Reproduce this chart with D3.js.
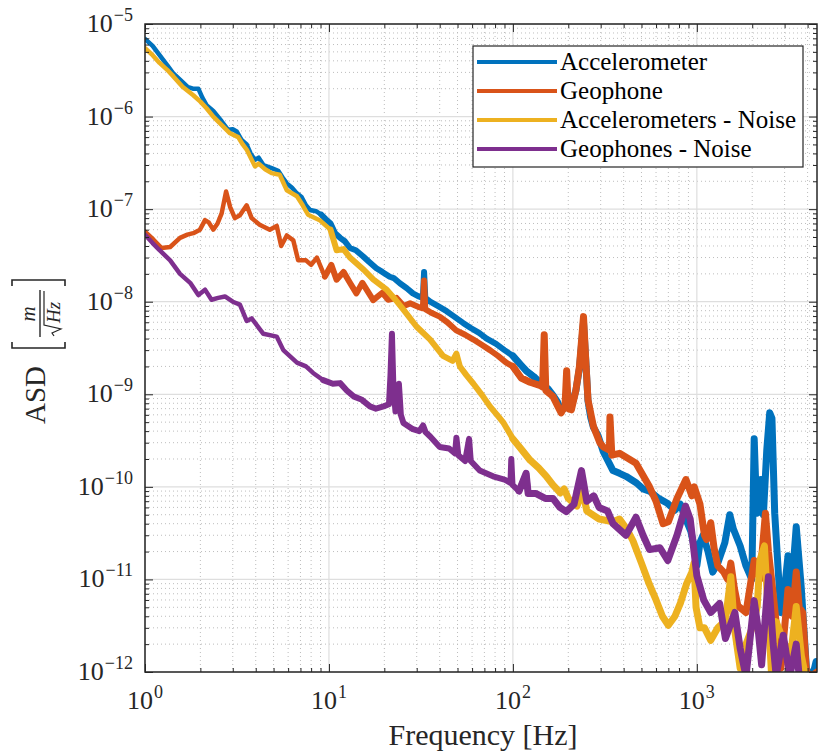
<!DOCTYPE html>
<html><head><meta charset="utf-8">
<script src="https://cdn.jsdelivr.net/npm/d3@7"></script>
<style>body{margin:0;background:#fff} svg{display:block}</style>
</head><body>
<svg id="chart" width="818" height="751"></svg>
<script>
// ---------- DATA ----------
const accFreq = [1.00,1.10,1.20,1.32,1.43,1.55,1.70,1.82,1.95,2.05,2.16,2.35,2.61,2.83,3.00,3.15,3.35,3.57,3.75,3.96,4.15,4.40,4.88,5.30,5.60,5.90,6.30,6.70,7.10,7.50,7.90,8.50,9.10,9.60,10.2,10.8,11.5,12.2,13.0,14.0,15.3,16.5,18.1,19.5,21.4,22.5,24.3,26.5,28.6,30.5,32.4,32.9,33.4,35.5,39,43.6,48,53.6,59,65.5,72,81,90,100,110,118,130,140,155,165,175,183,196,208,220,230,242,250,256,265,274,290,310,350,380,412,470,510,553,620,695,760,813,870,928,970,1000,1040,1080,1150,1220,1300,1420,1510,1580,1720,1850,1990,2050,2100,2130,2230,2300,2400,2490,2560,2650,2860,3000,3130,3250,3470,3690,3940,4200,4450];
const accASD = [6.9e-6,5.8e-6,4.6e-6,3.6e-6,2.9e-6,2.5e-6,2.1e-6,2.0e-6,2.0e-6,1.6e-6,1.33e-6,1.15e-6,8.9e-7,7.2e-7,7.3e-7,6.9e-7,5.6e-7,5.0e-7,4.0e-7,3.4e-7,3.6e-7,3.0e-7,2.77e-7,2.6e-7,2.2e-7,1.9e-7,1.7e-7,1.48e-7,1.35e-7,1.1e-7,9.8e-8,9.5e-8,8.7e-8,7.8e-8,7.0e-8,5.5e-8,4.9e-8,4.5e-8,3.8e-8,3.6e-8,3.1e-8,2.7e-8,2.3e-8,2.1e-8,1.86e-8,1.8e-8,1.58e-8,1.4e-8,1.23e-8,1.15e-8,1.1e-8,2.1e-8,1.1e-8,1.0e-8,9.0e-9,7.9e-9,6.9e-9,5.9e-9,5.2e-9,4.6e-9,4.0e-9,3.5e-9,3.0e-9,2.6e-9,2.1e-9,1.8e-9,1.55e-9,1.35e-9,1.15e-9,9.8e-10,8.2e-10,6.6e-10,7.5e-10,7.5e-10,1.1e-9,1.9e-9,6.0e-9,2.0e-9,8.5e-10,5.6e-10,4.4e-10,3.6e-10,2.4e-10,1.5e-10,1.4e-10,1.3e-10,1.1e-10,9.5e-11,9.0e-11,7.5e-11,6.6e-11,5.6e-11,6.5e-11,4.5e-11,3.3e-11,2.2e-11,1.4e-11,2.5e-11,3.0e-11,2.0e-11,1.2e-11,1.5e-11,2.5e-11,5.0e-11,3.5e-11,2.3e-11,1.4e-11,1.0e-11,3.3e-10,8.0e-11,5.2e-11,1.2e-10,5.0e-11,2.5e-10,6.3e-10,5.5e-10,5.2e-11,4.4e-12,8e-12,1.8e-11,6.6e-12,3.7e-11,8.5e-12,1.1e-12,0.8e-12,1.3e-12];

const geoFreq = [1.00,1.11,1.23,1.37,1.55,1.70,1.83,1.99,2.12,2.22,2.35,2.48,2.61,2.76,2.90,3.08,3.28,3.57,3.80,4.20,4.77,5.20,5.50,5.90,6.40,6.80,7.50,8.00,8.60,9.50,10.3,11.0,12.0,13.0,14.1,15.2,17.4,19.5,21.0,23.3,25.5,27.6,30.5,32.4,32.9,33.4,36,40,44,49.2,55,61,68,75,83,92,100,111,124,140,145,148,151,165,175,183,192,196,200,208,220,230,242,250,256,274,297,310,335,337,345,380,467,553,600,655,700,780,872,940,968,1040,1100,1130,1190,1240,1300,1400,1470,1530,1600,1670,1850,2050,2200,2360,2450,2600,2860,3000,3130,3300,3470,3600,3760,3940,4200,4500];
const geoASD = [5.7e-8,4.7e-8,3.8e-8,3.9e-8,4.9e-8,5.3e-8,5.5e-8,6.0e-8,7.6e-8,7.2e-8,6.0e-8,7.0e-8,9.0e-8,1.55e-7,1.06e-7,8.0e-8,8.6e-8,1.1e-7,8.0e-8,6.8e-8,6.0e-8,6.6e-8,4.0e-8,5.2e-8,4.6e-8,2.8e-8,2.8e-8,2.5e-8,3.0e-8,1.87e-8,2.5e-8,1.73e-8,2.1e-8,1.6e-8,1.23e-8,1.6e-8,1.04e-8,1.25e-8,1.05e-8,1.1e-8,9.0e-9,9.6e-9,8.8e-9,8.5e-9,1.7e-8,8.3e-9,7.6e-9,6.9e-9,6.0e-9,4.9e-9,4.4e-9,3.9e-9,3.4e-9,3.0e-9,2.6e-9,2.2e-9,2.0e-9,1.5e-9,1.35e-9,1.25e-9,1.2e-9,4.4e-9,1.1e-9,9.5e-10,7.5e-10,6.3e-10,7.5e-10,1.8e-9,7.0e-10,6.8e-10,1.1e-9,2.0e-9,6.9e-9,2.0e-9,8.7e-10,4.5e-10,3.0e-10,2.7e-10,2.5e-10,5.7e-10,2.2e-10,2.3e-10,1.8e-10,1.0e-10,7e-11,4.0e-11,4.2e-11,7.5e-11,1.2e-10,8.0e-11,1.0e-10,6.5e-11,3e-11,2.7e-11,4.1e-11,2.2e-11,1.4e-11,1.2e-11,1.0e-11,1.5e-11,8e-12,5.2e-12,4.4e-12,1.6e-11,1.0e-11,5.2e-11,2.0e-11,7e-12,1.1e-12,3e-12,7.8e-12,4e-12,1.2e-11,5e-12,4.4e-12,1e-12,0.9e-12,1.0e-12];

const accNoiseFreq = [1.00,1.10,1.20,1.32,1.43,1.60,1.83,2.00,2.16,2.35,2.55,2.90,3.21,3.40,3.57,3.96,4.15,4.50,4.88,5.40,5.90,6.70,7.20,7.70,8.90,10.2,11.0,12.0,13.0,14.1,15.5,17.4,20.6,23,25.4,29.9,35.5,41.7,47,49.3,51.5,56,61,68,75,82,89,100,112,124,138,152,165,181,190,200,223,240,252,294,350,380,420,450,500,550,600,650,700,760,813,880,940,965,990,1040,1100,1190,1300,1430,1530,1600,1720,1850,2000,2130,2200,2330,2450,2550,2700,3000,3250,3470,3700,3900,4500];
const accNoiseASD = [5.5e-6,4.6e-6,3.8e-6,3.2e-6,2.7e-6,2.1e-6,1.7e-6,1.45e-6,1.23e-6,1.0e-6,8.5e-7,6.6e-7,6.0e-7,5.0e-7,4.4e-7,2.9e-7,3.1e-7,2.7e-7,2.45e-7,2.35e-7,1.6e-7,1.38e-7,1.1e-7,8.7e-8,7.6e-8,6.0e-8,3.6e-8,3.7e-8,3.0e-8,2.6e-8,2.2e-8,1.74e-8,1.35e-8,1.05e-8,8.2e-9,5.4e-9,3.9e-9,2.6e-9,2.3e-9,2.75e-9,2.0e-9,1.6e-9,1.3e-9,9.8e-10,7.4e-10,6.0e-10,4.9e-10,3.3e-10,2.5e-10,1.94e-10,1.6e-10,1.3e-10,1.05e-10,8.6e-11,9.5e-11,7.5e-11,6.2e-11,9e-11,5.5e-11,4.5e-11,4.2e-11,4.5e-11,3.4e-11,2.6e-11,1.5e-11,9e-12,6e-12,4e-12,3.2e-12,4e-12,5.5e-12,9e-12,1.2e-11,1.5e-11,5e-12,3e-12,3e-12,2.2e-12,3e-12,3.6e-12,1.07e-11,3e-12,1.1e-12,2e-12,3e-12,5.1e-12,1.6e-11,2.3e-11,4e-12,0.9e-12,3.5e-12,2e-12,1.6e-12,5.1e-12,1.5e-12,0.9e-12,0.9e-12];

const geoNoiseFreq = [1.00,1.10,1.20,1.37,1.55,1.76,1.95,2.12,2.30,2.50,2.72,3.00,3.28,3.57,3.80,4.40,5.20,5.65,6.70,7.50,8.20,9.30,10.5,11.5,12.5,13.6,15.0,16.7,18.0,19.8,21.2,21.6,22.0,22.4,23.0,24.0,24.6,25.4,28.6,31,32.5,33.5,35.5,40,45,48.5,49.3,50.5,55,57.8,59,66,78,90,97,98,99.5,108,118,121,133,150,165,180,195,215,236,252,275,294,327,350,412,467,510,553,630,695,780,868,920,1000,1090,1190,1330,1430,1610,1720,1850,2050,2150,2250,2450,2600,2700,2950,3200,3470,3600,4500];
const geoNoiseASD = [5.3e-8,4.3e-8,3.6e-8,2.8e-8,2.0e-8,1.6e-8,1.18e-8,1.35e-8,1.05e-8,1.1e-8,1.14e-8,1.0e-8,9.3e-9,6.2e-9,6.6e-9,4.5e-9,4.2e-9,3.0e-9,2.2e-9,2.0e-9,1.7e-9,1.42e-9,1.3e-9,1.32e-9,1.1e-9,9.5e-10,8.8e-10,7.4e-10,7.0e-10,7.4e-10,7.8e-10,1.6e-9,4.5e-9,1.2e-9,6.5e-10,1.3e-9,6.0e-10,4.9e-10,4.2e-10,4.0e-10,4.6e-10,3.9e-10,3.5e-10,2.7e-10,2.6e-10,2.3e-10,3.4e-10,2.2e-10,1.9e-10,3.3e-10,1.9e-10,1.5e-10,1.3e-10,1.2e-10,1.1e-10,2.0e-10,1.05e-10,9e-11,1.4e-10,8.5e-11,8.5e-11,7.5e-11,7.5e-11,6e-11,5.4e-11,6.5e-11,1.5e-10,7e-11,8e-11,6e-11,5.5e-11,4e-11,3.0e-11,4.7e-11,3e-11,2.1e-11,2.2e-11,1.6e-11,3e-11,6.2e-11,4.5e-11,1.1e-11,6e-12,4.4e-12,5.5e-12,2.3e-12,4.4e-12,1.8e-12,0.9e-12,5.9e-12,3e-12,1.2e-12,1.07e-11,2e-12,0.9e-12,2.5e-12,0.9e-12,2e-12,0.9e-12,0.9e-12];

const seriesNames = ["Accelerometer","Geophone","Accelerometers - Noise","Geophones - Noise"];
const seriesColors = ["#0072BD","#D95319","#EDB120","#7E2F8E"];
const xTickValues = [1,10,100,1000];
const xTickExponents = ["0","1","2","3"];
const yTickValues = [1e-12,1e-11,1e-10,1e-9,1e-8,1e-7,1e-6,1e-5];
const yTickExponents = ["\u221212","\u221211","\u221210","\u22129","\u22128","\u22127","\u22126","\u22125"];
const xDomain = [1, 4500];
const yDomain = [1e-12, 1e-5];

// ---------- LAYOUT ----------
const L = 145, R = 817, T = 24, B = 672;
const FONT = '"Liberation Serif", serif';
const svg = d3.select("#chart");
const x = d3.scaleLog().domain(xDomain).range([L, R]);
const y = d3.scaleLog().domain(yDomain).range([B, T]);

const xMinor = [], yMinor = [];
for (let e = 0; e <= 3; e++) for (let k = 2; k <= 9; k++) { const v = k * Math.pow(10, e); if (v <= xDomain[1]) xMinor.push(v); }
for (let e = -12; e < -5; e++) for (let k = 2; k <= 9; k++) yMinor.push(k * Math.pow(10, e));

const grid = svg.append("g");
grid.selectAll(".gxm").data(xMinor).join("line")
  .attr("x1", d => x(d)).attr("x2", d => x(d)).attr("y1", T).attr("y2", B)
  .attr("stroke", "#bdbdbd").attr("stroke-width", 1).attr("stroke-dasharray", "1,3");
grid.selectAll(".gym").data(yMinor).join("line")
  .attr("y1", d => y(d)).attr("y2", d => y(d)).attr("x1", L).attr("x2", R)
  .attr("stroke", "#bdbdbd").attr("stroke-width", 1).attr("stroke-dasharray", "1,3");
grid.selectAll(".gx").data(xTickValues).join("line")
  .attr("x1", d => x(d)).attr("x2", d => x(d)).attr("y1", T).attr("y2", B)
  .attr("stroke", "#dedede").attr("stroke-width", 1.2);
grid.selectAll(".gy").data(yTickValues).join("line")
  .attr("y1", d => y(d)).attr("y2", d => y(d)).attr("x1", L).attr("x2", R)
  .attr("stroke", "#dedede").attr("stroke-width", 1.2);

svg.append("clipPath").attr("id", "clip").append("rect")
  .attr("x", L).attr("y", T).attr("width", R - L).attr("height", B - T);

const seriesData = [
  d3.zip(accFreq, accASD),
  d3.zip(geoFreq, geoASD),
  d3.zip(accNoiseFreq, accNoiseASD),
  d3.zip(geoNoiseFreq, geoNoiseASD)
];
// the measured spectra get visually thicker (noisier) at higher frequency
const widthBands = [[0, 12, 4.5], [9, 130, 6], [100, 1e5, 7]];
const line = d3.line().x(d => x(d[0])).y(d => y(d[1]));
const plot = svg.append("g").attr("clip-path", "url(#clip)");
seriesData.forEach((s, i) => {
  widthBands.forEach(([lo, hi, w]) => {
    const seg = s.filter(d => d[0] >= lo && d[0] <= hi);
    plot.append("path").datum(seg).attr("d", line)
      .attr("fill", "none").attr("stroke", seriesColors[i])
      .attr("stroke-width", w).attr("stroke-linejoin", "round").attr("stroke-linecap", "round");
  });
});

const axG = svg.append("g");
axG.append("g").attr("transform", `translate(0,${B})`)
  .call(d3.axisBottom(x).tickValues(xTickValues).tickSize(-8).tickFormat(""));
axG.append("g").attr("transform", `translate(0,${B})`)
  .call(d3.axisBottom(x).tickValues(xMinor).tickSize(-4).tickFormat(""));
axG.append("g").attr("transform", `translate(0,${T})`)
  .call(d3.axisTop(x).tickValues(xTickValues).tickSize(-8).tickFormat(""));
axG.append("g").attr("transform", `translate(0,${T})`)
  .call(d3.axisTop(x).tickValues(xMinor).tickSize(-4).tickFormat(""));
axG.append("g").attr("transform", `translate(${L},0)`)
  .call(d3.axisLeft(y).tickValues(yTickValues).tickSize(-8).tickFormat(""));
axG.append("g").attr("transform", `translate(${L},0)`)
  .call(d3.axisLeft(y).tickValues(yMinor).tickSize(-4).tickFormat(""));
axG.append("g").attr("transform", `translate(${R},0)`)
  .call(d3.axisRight(y).tickValues(yTickValues).tickSize(-8).tickFormat(""));
axG.append("g").attr("transform", `translate(${R},0)`)
  .call(d3.axisRight(y).tickValues(yMinor).tickSize(-4).tickFormat(""));
axG.selectAll(".domain").remove();
axG.selectAll("line").attr("stroke", "#262626").attr("stroke-width", 1);
svg.append("rect").attr("x", L).attr("y", T).attr("width", R - L).attr("height", B - T)
  .attr("fill", "none").attr("stroke", "#262626").attr("stroke-width", 1.5);

xTickValues.forEach((v, i) => {
  const t = svg.append("text").attr("x", x(v)).attr("y", B + 37)
    .attr("text-anchor", "middle").style("font-family", FONT).style("font-size", "26px").attr("fill", "#262626");
  t.append("tspan").text("10");
  t.append("tspan").attr("dy", -11).attr("dx", 1).style("font-size", "18px").text(xTickExponents[i]);
});
yTickValues.forEach((v, i) => {
  const t = svg.append("text").attr("x", L - 12).attr("y", y(v) + 8)
    .attr("text-anchor", "end").style("font-family", FONT).style("font-size", "26px").attr("fill", "#262626");
  t.append("tspan").text("10");
  t.append("tspan").attr("dy", -11).attr("dx", 1).style("font-size", "18px").text(yTickExponents[i]);
});

svg.append("text").attr("x", (L + R) / 2 + 2).attr("y", 745).attr("text-anchor", "middle")
  .style("font-family", FONT).style("font-size", "30px").attr("fill", "#262626").text("Frequency [Hz]");

const yl = svg.append("g").attr("transform", `translate(45,${(T + B) / 2}) rotate(-90)`)
  .attr("fill", "#262626");
yl.append("text").attr("x", -76).attr("y", 0).style("font-family", FONT).style("font-size", "29px").text("ASD");
yl.append("path").attr("d", "M6,-33 L0,-33 L0,20 L6,20").attr("fill", "none").attr("stroke", "#262626").attr("stroke-width", 1.6);
yl.append("path").attr("d", "M62,-33 L68,-33 L68,20 L62,20").attr("fill", "none").attr("stroke", "#262626").attr("stroke-width", 1.6);
yl.append("text").attr("x", 34).attr("y", -10).attr("text-anchor", "middle")
  .style("font-family", FONT).style("font-style", "italic").style("font-size", "21px").text("m");
yl.append("line").attr("x1", 11).attr("x2", 58).attr("y1", -5).attr("y2", -5).attr("stroke", "#262626").attr("stroke-width", 1.4);
yl.append("path").attr("d", "M12,9 L15,7 L19,16 L23,-1 L57,-1").attr("fill", "none").attr("stroke", "#262626").attr("stroke-width", 1.2);
yl.append("text").attr("x", 25).attr("y", 15).style("font-family", FONT).style("font-style", "italic").style("font-size", "19px").text("Hz");

const lg = svg.append("g");
lg.append("rect").attr("x", 473).attr("y", 46).attr("width", 330).attr("height", 121)
  .attr("fill", "#fff").attr("stroke", "#262626").attr("stroke-width", 1.2);
seriesNames.forEach((n, i) => {
  const cy = 62 + i * 29;
  lg.append("line").attr("x1", 477).attr("x2", 557).attr("y1", cy).attr("y2", cy)
    .attr("stroke", seriesColors[i]).attr("stroke-width", 4);
  lg.append("text").attr("x", 560).attr("y", cy + 8).style("font-family", FONT).style("font-size", "25px")
    .attr("fill", "#000").text(n);
});
</script>
</body></html>
